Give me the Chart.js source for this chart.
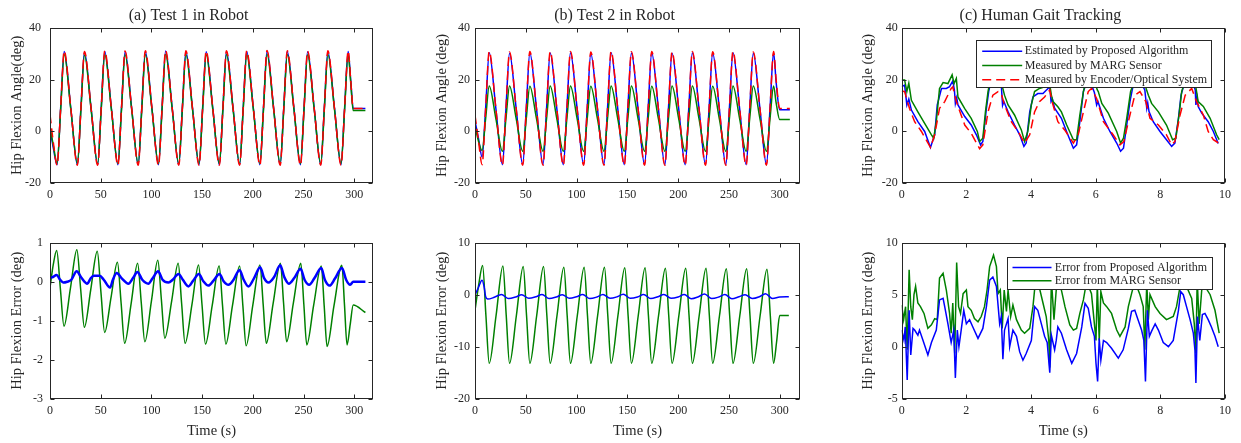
<!DOCTYPE html>
<html>
<head>
<meta charset="utf-8">
<script src="https://cdn.jsdelivr.net/npm/chart.js@4.4.0/dist/chart.umd.min.js"></script>
<style>
  body { margin: 0; background: #fff; width: 1241px; height: 443px; position: relative; overflow: hidden; }
  .cell { position: absolute; }
</style>
</head>
<body>
<div class="cell" style="left:0;top:0;width:395px;height:215px"><canvas id="angleA"></canvas></div>
<div class="cell" style="left:420px;top:0;width:395px;height:215px"><canvas id="angleB"></canvas></div>
<div class="cell" style="left:846px;top:0;width:395px;height:215px"><canvas id="angleC"></canvas></div>
<div class="cell" style="left:0;top:225px;width:395px;height:218px"><canvas id="errA"></canvas></div>
<div class="cell" style="left:420px;top:225px;width:395px;height:218px"><canvas id="errB"></canvas></div>
<div class="cell" style="left:846px;top:225px;width:395px;height:218px"><canvas id="errC"></canvas></div>
<script>
// ---- tick labels ----
const robotTimeTicks = [0, 50, 100, 150, 200, 250, 300];
const gaitTimeTicks = [0, 2, 4, 6, 8, 10];
const angleTicks = [-20, 0, 20, 40];
const errTicksA = [-3, -2, -1, 0, 1];
const errTicksB = [-20, -10, 0, 10];
const errTicksC = [-5, 0, 5, 10];

// ---- (a) Test 1 in Robot : angle ----
const tA = [0, 3.5,
  7, 10.5, 14, 20.5,
  27, 30.5, 34, 40.5,
  47, 50.5, 54, 60.5,
  67, 70.5, 74, 80.5,
  87, 90.5, 94, 100.5,
  107, 110.5, 114, 120.5,
  127, 130.5, 134, 140.5,
  147, 150.5, 154, 160.5,
  167, 170.5, 174, 180.5,
  187, 190.5, 194, 200.5,
  207, 210.5, 214, 220.5,
  227, 230.5, 234, 240.5,
  247, 250.5, 254, 260.5,
  267, 270.5, 274, 280.5,
  287, 290.5, 294, 296.5, 299, 311];
const aAngleEst = [1, -7,
  -13, 9, 31, 9,
  -13, 9, 30.8, 9,
  -13, 9, 31, 9,
  -13, 9, 30.9, 9,
  -13, 9, 31, 9,
  -13, 9, 31.1, 9,
  -13, 9, 31, 9,
  -13, 9, 30.9, 9,
  -13, 9, 31, 9,
  -13, 9, 31, 9,
  -13, 9, 31.1, 9,
  -13, 9, 31, 9,
  -13, 9, 30.9, 9,
  -13, 9, 31, 9,
  -13, 9, 31, 20, 8.8, 8.8];
const aAngleMarg = [2, -6,
  -12.6, 8.3, 29.8, 8.6,
  -12.6, 8.3, 29.6, 8.6,
  -12.6, 8.3, 29.8, 8.6,
  -12.6, 8.3, 29.7, 8.6,
  -12.6, 8.3, 29.8, 8.6,
  -12.6, 8.3, 29.9, 8.6,
  -12.6, 8.3, 29.8, 8.6,
  -12.6, 8.3, 29.7, 8.6,
  -12.6, 8.3, 29.8, 8.6,
  -12.6, 8.3, 29.8, 8.6,
  -12.6, 8.3, 29.9, 8.6,
  -12.6, 8.3, 29.8, 8.6,
  -12.6, 8.3, 29.7, 8.6,
  -12.6, 8.3, 29.8, 8.6,
  -12.6, 8.3, 29.8, 19, 8, 8];
const aAngleRef = [6.5, -5,
  -13.2, 9, 31.2, 9,
  -13.2, 9, 31, 9,
  -13.2, 9, 31.2, 9,
  -13.2, 9, 31.1, 9,
  -13.2, 9, 31.2, 9,
  -13.2, 9, 31.3, 9,
  -13.2, 9, 31.2, 9,
  -13.2, 9, 31.1, 9,
  -13.2, 9, 31.2, 9,
  -13.2, 9, 31.2, 9,
  -13.2, 9, 31.3, 9,
  -13.2, 9, 31.2, 9,
  -13.2, 9, 31.1, 9,
  -13.2, 9, 31.2, 9,
  -13.2, 9, 31.2, 20, 8.8, 8.8];

// ---- (b) Test 2 in Robot : angle ----
const tB = [0, 3.5,
  7, 10.5, 14, 20.5,
  27, 30.5, 34, 40.5,
  47, 50.5, 54, 60.5,
  67, 70.5, 74, 80.5,
  87, 90.5, 94, 100.5,
  107, 110.5, 114, 120.5,
  127, 130.5, 134, 140.5,
  147, 150.5, 154, 160.5,
  167, 170.5, 174, 180.5,
  187, 190.5, 194, 200.5,
  207, 210.5, 214, 220.5,
  227, 230.5, 234, 240.5,
  247, 250.5, 254, 260.5,
  267, 270.5, 274, 280.5,
  287, 290.5, 294, 296.5, 300, 310];
const bAngleEst = [4, -3,
  -10, 9, 30.5, 9,
  -13, 9, 30.3, 9,
  -13, 9, 30.5, 9,
  -13, 9, 30.4, 9,
  -13, 9, 30.5, 9,
  -13, 9, 30.2, 9,
  -13, 9, 30.5, 9,
  -13, 9, 30.4, 9,
  -13, 9, 30.5, 9,
  -13, 9, 30.3, 9,
  -13, 9, 30.5, 9,
  -13, 9, 30.4, 9,
  -13, 9, 30.5, 9,
  -13, 9, 30.3, 9,
  -13, 9, 30.5, 19, 8.3, 8.3];
const bAngleMarg = [2, -4,
  -7.5, 5, 17.6, 5,
  -7.8, 5, 17.6, 5,
  -7.8, 5, 17.5, 5,
  -7.8, 5, 17.6, 5,
  -7.8, 5, 17.6, 5,
  -7.8, 5, 17.5, 5,
  -7.8, 5, 17.6, 5,
  -7.8, 5, 17.6, 5,
  -7.8, 5, 17.5, 5,
  -7.8, 5, 17.6, 5,
  -7.8, 5, 17.6, 5,
  -7.8, 5, 17.5, 5,
  -7.8, 5, 17.6, 5,
  -7.8, 5, 17.6, 5,
  -7.8, 5, 17.6, 11, 4.5, 4.5];
const bAngleRef = [6.3, -4,
  -13, 9, 31, 9,
  -13.2, 9, 30.8, 9,
  -13.2, 9, 31, 9,
  -13.2, 9, 30.9, 9,
  -13.2, 9, 31, 9,
  -13.2, 9, 30.8, 9,
  -13.2, 9, 31, 9,
  -13.2, 9, 30.9, 9,
  -13.2, 9, 31, 9,
  -13.2, 9, 30.8, 9,
  -13.2, 9, 31, 9,
  -13.2, 9, 30.9, 9,
  -13.2, 9, 31, 9,
  -13.2, 9, 30.8, 9,
  -13.2, 9, 31, 20, 8.8, 8.8];

// ---- (a) error ----
const tAErrEst = [0, 3, 6.5, 10, 13, 17, 21,
  26.3, 31, 36.8, 40, 43, 49, 53, 59.2, 62,
  65.8, 71, 77.3, 82,
  86.2, 91, 97, 101,
  106.6, 111, 116.8, 121,
  126.7, 131, 136.5, 141,
  146.8, 151, 156.2, 161,
  167.2, 171, 176, 181,
  186.9, 191, 195.7, 201,
  207.3, 211, 215.5, 221,
  227, 231, 235.5, 241,
  247.1, 251, 255.6, 261,
  267.5, 271, 275.7, 281,
  287.9, 292, 296, 299, 311];
const aErrEst = [0.1, 0.12, 0.17, 0.05, -0.02, 0.0, 0.05,
  0.27, 0.1, -0.05, 0.08, 0.15, 0.15, 0.05, -0.15, 0.05,
  0.22, 0.08, -0.05, 0.1,
  0.25, 0.05, -0.05, 0.08,
  0.27, 0.05, -0.02, 0.05,
  0.2, 0.05, -0.12, 0.02,
  0.2, 0.02, -0.1, 0.02,
  0.2, 0.02, -0.08, 0.05,
  0.3, 0.05, -0.12, 0.08,
  0.37, 0.1, -0.02, 0.12,
  0.42, 0.12, -0.05, 0.1,
  0.33, 0.05, -0.08, 0.1,
  0.35, 0.05, -0.1, 0.08,
  0.35, 0.05, -0.08, 0.0, 0.0];
const tAErrMarg = [0, 3.3,
  6.6, 10.2, 13.8, 20.2,
  26.5, 30.2, 33.9, 40.2,
  46.6, 50.2, 53.9, 60.2,
  66.5, 70.1, 73.6, 80,
  86.4, 90, 93.5, 100,
  106.3, 109.8, 113.2, 120,
  126.4, 129.8, 133.2, 140,
  146.5, 149.9, 153.3, 160,
  166.8, 170.1, 173.4, 180,
  187, 190.2, 193.4, 200,
  207, 210.2, 213.3, 220,
  227.2, 230.3, 233.3, 240,
  247.3, 250.3, 253.2, 260,
  267.5, 270.4, 273.2, 280,
  287.8, 290.4, 292.9, 296, 299, 311];
const aErrMarg = [-0.15, 0.45,
  0.8, -0.17, -1.14, -0.16,
  0.82, -0.18, -1.17, -0.2,
  0.78, -0.26, -1.3, -0.4,
  0.5, -0.54, -1.58, -0.56,
  0.47, -0.54, -1.54, -0.5,
  0.55, -0.45, -1.45, -0.49,
  0.47, -0.56, -1.58, -0.58,
  0.43, -0.59, -1.6, -0.6,
  0.4, -0.6, -1.6, -0.6,
  0.4, -0.62, -1.64, -0.6,
  0.43, -0.58, -1.58, -0.56,
  0.47, -0.54, -1.54, -0.54,
  0.47, -0.58, -1.62, -0.6,
  0.4, -0.63, -1.66, -0.62,
  0.42, -0.6, -1.62, -1.1, -0.6, -0.79];

// ---- (b) error ----
const tBErrEst = [0, 3, 7, 9, 10.5, 12.5, 19,
  26, 33, 40, 46, 53, 60, 66, 73, 80,
  86, 93, 100, 106, 113, 120, 126, 133, 140,
  146, 153, 160, 166, 173, 180, 186, 193, 200,
  206, 213, 220, 226, 233, 240, 246, 253, 260,
  266, 273, 280, 286, 293, 300, 309];
const bErrEst = [0, 1.2, 2.8, 1.5, -0.4, -0.85, -0.5,
  0.05, -0.75, -0.45, 0.0, -0.7, -0.4, 0.05, -0.75, -0.45,
  0.0, -0.7, -0.4, 0.05, -0.75, -0.45, 0.05, -0.7, -0.4,
  0.1, -0.7, -0.45, 0.05, -0.75, -0.4, 0.05, -0.7, -0.45,
  0.05, -0.8, -0.4, 0.15, -0.75, -0.45, 0.05, -0.8, -0.4,
  0.0, -0.75, -0.4, 0.2, -0.75, -0.45, -0.4];
const tBErrMarg = [0, 3.7,
  7.5, 10.75, 14, 20.75,
  27.5, 30.75, 34, 40.75,
  47.5, 50.75, 54, 60.75,
  67.5, 70.75, 74, 80.75,
  87.5, 90.75, 94, 100.75,
  107.5, 110.75, 114, 120.75,
  127.5, 130.75, 134, 140.75,
  147.5, 150.75, 154, 160.75,
  167.5, 170.75, 174, 180.75,
  187.5, 190.75, 194, 200.75,
  207.5, 210.75, 214, 220.75,
  227.5, 230.75, 234, 240.75,
  247.5, 250.75, 254, 260.75,
  267.5, 270.75, 274, 280.75,
  287.5, 290.75, 294, 297, 300, 309];
const bErrMarg = [-3, 2,
  5.6, -4, -13.2, -4,
  5.5, -4, -13.2, -4,
  5.4, -4, -13.2, -4,
  5.4, -4, -13.2, -4,
  5.3, -4, -13.2, -4,
  5.3, -4, -13.2, -4,
  5.3, -4, -13.2, -4,
  5.2, -4, -13.2, -4,
  5.2, -4, -13.2, -4,
  5.1, -4, -13.2, -4,
  5.1, -4, -13.2, -4,
  5.1, -4, -13.2, -4,
  5.0, -4, -13.2, -4,
  5.0, -4, -13.2, -4,
  4.9, -4, -13.2, -9, -4, -4];

// ---- (c) Human gait tracking : angle ----
const cTimeEst = [0, 0.09, 0.16, 0.22, 0.3, 0.5, 0.71, 0.89, 1.02, 1.1,
  1.23, 1.38, 1.48, 1.58, 1.63, 1.66, 1.7, 1.74, 1.95, 2.15,
  2.31, 2.44, 2.51, 2.62, 2.69, 2.8, 2.95, 3.08, 3.12, 3.16,
  3.29, 3.49, 3.65, 3.78, 3.85, 3.96, 4.06, 4.21, 4.37, 4.47,
  4.58, 4.62, 4.66, 4.73, 4.94, 5.12, 5.31, 5.41, 5.51, 5.62,
  5.75, 5.9, 5.96, 6.03, 6.07, 6.24, 6.44, 6.65, 6.77, 6.86,
  6.96, 7.06, 7.14, 7.3, 7.52, 7.58, 7.61, 7.65, 7.78, 7.99,
  8.19, 8.35, 8.45, 8.56, 8.64, 8.8, 9.0, 9.08, 9.1, 9.14,
  9.17, 9.28, 9.48, 9.64, 9.79];
const cEst = [17.3, 17.9, 10.2, 12.5, 8.2, 3.7, -0.1, -6.3, -1.4, 10.2,
  16.6, 16.6, 17.3, 19.5, 16, 10.8, 13, 10.2, 5.7, 2.4,
  -1.4, -5.3, -4, 8.9, 15.4, 22, 21, 18, 10, 11.5,
  7.5, 2.4, -1.4, -5.9, -4.6, 7.5, 13.3, 14.6, 14.6, 15.9,
  17.2, 11.5, 12.5, 8.9, 5.0, -0.8, -6.6, -5.3, 3.7, 15.4,
  20, 17, 15, 10.2, 11.5, 5.0, -0.1, -4.6, -7.8, -6.6,
  2.4, 11.5, 16.6, 21, 16, 8.9, 11, 7.6, 3.7, -0.1,
  -3.3, -5.9, -4.6, 5.0, 14.0, 21, 19, 16, 10.2, 13,
  9.6, 7.0, 3.7, -0.1, -4.8];
const cTimeMarg = [0, 0.09, 0.16, 0.22, 0.3, 0.5, 0.71, 0.92, 0.99, 1.07,
  1.17, 1.28, 1.43, 1.56, 1.62, 1.69, 1.74, 1.95, 2.15, 2.34,
  2.41, 2.51, 2.59, 2.67, 2.8, 3.0, 3.12, 3.18, 3.29, 3.49,
  3.7, 3.8, 3.9, 4.01, 4.11, 4.26, 4.42, 4.58, 4.63, 4.68,
  4.83, 4.94, 5.1, 5.31, 5.41, 5.51, 5.62, 5.75, 5.95, 6.05,
  6.08, 6.19, 6.39, 6.65, 6.77, 6.86, 6.96, 7.08, 7.3, 7.55,
  7.63, 7.73, 7.94, 8.19, 8.38, 8.48, 8.59, 8.66, 8.85, 9.1,
  9.17, 9.33, 9.54, 9.74, 9.82];
const cMarg = [19.9, 19.9, 15.4, 18.6, 12.0, 7.5, 3.0, -1.4, -2.7, 3.7,
  16.6, 18.9, 18.5, 21.9, 18.5, 20.5, 13.3, 8.8, 5.0, -0.1,
  -4, -2.7, 7.5, 15.4, 24, 22, 17, 14.0, 10.2, 6.3,
  0.5, -4.0, -0.1, 10.2, 15.4, 16.6, 17.2, 18, 14, 11.5,
  9.5, 7.5, 2.5, -3.3, -3.3, 6.3, 15.4, 22, 20, 16,
  15.4, 10.8, 7.0, -0.1, -4.6, -2.7, 5.0, 15.4, 23, 17,
  14.0, 10.8, 7.5, 2.4, -3.3, -2.7, 7.5, 15.4, 23, 17,
  11.5, 9.6, 5.0, -1.4, -3.3];
const cTimeRef = [0, 0.09, 0.24, 0.4, 0.61, 0.89, 1.02, 1.17, 1.33, 1.53,
  1.58, 1.69, 1.95, 2.15, 2.41, 2.51, 2.67, 2.82, 2.98, 3.08,
  3.18, 3.39, 3.6, 3.8, 3.96, 4.11, 4.26, 4.42, 4.58, 4.65,
  4.83, 5.04, 5.31, 5.46, 5.62, 5.77, 5.87, 6.03, 6.24, 6.54,
  6.75, 6.87, 7.06, 7.21, 7.37, 7.55, 7.68, 7.94, 8.19, 8.35,
  8.45, 8.61, 8.77, 8.97, 9.12, 9.33, 9.48, 9.64, 9.79];
const cRef = [15.5, 15.4, 8.9, 3.7, -0.1, -6.3, -1.4, 8.9, 11.5, 16.6,
  17.2, 11.5, 2.4, -0.8, -6.8, -5.3, 7.5, 14.0, 15.4, 14.6,
  10.2, 3.7, -0.1, -4.6, -1.4, 7.5, 11.5, 13.3, 16.0, 11.5,
  3.7, 0.5, -4.6, -1.4, 7.5, 15.4, 16.6, 12.7, 3.7, -1.4,
  -5.3, -4.0, 6.3, 14.0, 15.4, 11.5, 5.0, 2.4, -1.4, -5.3,
  -4.0, 6.3, 14.0, 16.6, 11.5, 6.3, -0.1, -3.3, -4.5];

// ---- (c) error ----
const cErrTimeEst = [0, 0.07, 0.11, 0.17, 0.23, 0.28, 0.35, 0.4, 0.5, 0.55,
  0.66, 0.81, 0.92, 1.07, 1.17, 1.28, 1.33, 1.43, 1.53, 1.61,
  1.66, 1.72, 1.77, 1.84, 1.92, 2.0, 2.1, 2.2, 2.36, 2.51,
  2.62, 2.72, 2.82, 2.93, 3.03, 3.08, 3.13, 3.18, 3.29, 3.34,
  3.44, 3.55, 3.65, 3.75, 3.85, 4.01, 4.11, 4.21, 4.32, 4.42,
  4.5, 4.58, 4.63, 4.73, 4.78, 4.83, 4.94, 5.1, 5.26, 5.41,
  5.57, 5.67, 5.77, 5.87, 5.96, 6.01, 6.06, 6.11, 6.16, 6.24,
  6.34, 6.49, 6.7, 6.85, 7.01, 7.11, 7.21, 7.31, 7.42, 7.49,
  7.54, 7.6, 7.66, 7.73, 7.84, 7.94, 8.09, 8.25, 8.4, 8.56,
  8.63, 8.71, 8.81, 8.92, 9.02, 9.07, 9.1, 9.15, 9.22, 9.3,
  9.38, 9.48, 9.58, 9.69, 9.79];
const cErrEst = [1.6, 0.64, 1.9, -3.2, 3.5, -0.8, 1.76, 1.6, 1.1, 1.6,
  0.6, -0.8, 0.4, 1.6, 4.5, 4.65, 3.85, 2.2, 0.4, 1.6,
  -3.0, 1.6, 0, 1.6, 3.5, 2.2, 2.6, 1.9, 0.8, 1.76,
  3.85, 6.4, 6.7, 5.8, 2.2, 2.9, -1.2, 1.6, 2.7, 0,
  1.6, 1.0, -0.5, -1.3, -0.65, 0.6, 3.85, 3.5, 2.2, 1.0,
  0.4, -2.5, 1.1, -0.3, 0.6, 1.9, 1.3, -0.3, -1.6, -0.65,
  1.9, 4.17, 3.7, 1.9, 1.0, -1.6, -3.35, 0.8, -1.3, 0.6,
  0.4, -0.15, -1.1, -0.3, 1.76, 3.4, 3.5, 2.6, 1.6, 0.6,
  -3.35, 3.5, 1.0, 1.5, 2.2, 1.6, 0.4, 0.0, 0.6, 3.5,
  5.3, 5.0, 3.85, 2.6, 1.3, -0.3, -3.5, 2.9, 0.6, 3.1,
  3.2, 2.6, 1.9, 1.0, 0.0];
const cErrTimeMarg = [0, 0.06, 0.12, 0.17, 0.23, 0.28, 0.33, 0.38, 0.43, 0.5,
  0.58, 0.69, 0.81, 0.92, 1.02, 1.1, 1.17, 1.28, 1.38, 1.48,
  1.53, 1.58, 1.64, 1.7, 1.76, 1.82, 1.9, 2.0, 2.05, 2.15,
  2.25, 2.36, 2.46, 2.56, 2.64, 2.72, 2.84, 2.93, 2.98, 3.05,
  3.11, 3.17, 3.24, 3.29, 3.37, 3.44, 3.55, 3.7, 3.8, 3.96,
  4.06, 4.11, 4.21, 4.37, 4.47, 4.55, 4.58, 4.63, 4.71, 4.78,
  4.88, 4.95, 5.05, 5.2, 5.31, 5.41, 5.51, 5.62, 5.72, 5.87,
  5.96, 6.01, 6.05, 6.11, 6.16, 6.24, 6.34, 6.49, 6.65, 6.75,
  6.91, 7.01, 7.11, 7.21, 7.37, 7.47, 7.52, 7.58, 7.63, 7.68,
  7.84, 7.99, 8.19, 8.4, 8.5, 8.59, 8.66, 8.81, 8.97, 9.05,
  9.1, 9.14, 9.2, 9.28, 9.38, 9.54, 9.69, 9.82];
const cErrMarg = [4.0, 2.6, 3.85, -0.3, 7.4, 3.85, 2.6, 5.0, 5.8, 4.2,
  3.85, 3.2, 1.76, 2.1, 2.7, 2.6, 6.6, 7.05, 5.45, 3.2,
  1.3, 4.2, -0.65, 8.1, 3.85, 3.2, 5.1, 5.45, 3.85, 3.5,
  2.7, 2.4, 2.9, 3.85, 5.45, 7.7, 8.8, 7.7, 5.1, 5.45,
  1.76, 5.45, 3.4, 5.45, 2.9, 4.0, 2.6, 1.6, 1.3, 1.76,
  3.85, 5.45, 6.3, 4.2, 2.9, 0.6, -2.0, 6.5, 2.6, 5.45,
  6.2, 5.3, 3.85, 2.1, 1.6, 1.76, 3.2, 4.5, 6.3, 5.1,
  2.2, 0.6, 6.0, 0.6, 5.3, 4.2, 3.85, 3.2, 1.6, 1.0,
  1.9, 3.85, 5.1, 6.3, 5.0, 3.85, -0.3, 6.2, 2.6, 5.0,
  3.85, 3.2, 2.6, 2.9, 3.85, 5.45, 6.5, 5.8, 4.65, 2.2,
  -0.65, 6.5, 2.2, 5.45, 5.8, 5.0, 3.5, 1.3];

// ---- styling ----
const SERIF = "'Liberation Serif', 'Times New Roman', Times, serif";
const INK = '#262626';
const BLUE = '#0000ff', GREEN = '#008000', RED = '#ff0000';

function pts(xs, ys) {
  const n = Math.min(xs.length, ys.length);
  const out = [];
  for (let i = 0; i < n; i++) out.push({ x: xs[i], y: ys[i] });
  return out;
}

function series(label, xs, ys, color, extra) {
  return Object.assign({
    label: label,
    data: pts(xs, ys),
    borderColor: color,
    backgroundColor: color,
    borderWidth: 1.5,
    pointRadius: 0,
    fill: false
  }, extra || {});
}

// matlab-like box with inward ticks on all four sides
const axesBox = {
  id: 'axesBox',
  afterDatasetsDraw(chart) {
    const { ctx, chartArea: a, scales } = chart;
    const L = Math.round(a.left) + 0.5, R = Math.round(a.right) - 0.5;
    const T = Math.round(a.top) + 0.5, B = Math.round(a.bottom) - 0.5;
    const len = 4;
    ctx.save();
    ctx.strokeStyle = INK;
    ctx.lineWidth = 1;
    ctx.strokeRect(L, T, R - L, B - T);
    ctx.beginPath();
    scales.x.ticks.forEach(t => {
      const p = Math.round(scales.x.getPixelForValue(t.value)) + 0.5;
      ctx.moveTo(p, B); ctx.lineTo(p, B - len);
      ctx.moveTo(p, T); ctx.lineTo(p, T + len);
    });
    scales.y.ticks.forEach(t => {
      const p = Math.round(scales.y.getPixelForValue(t.value)) + 0.5;
      ctx.moveTo(L, p); ctx.lineTo(L + len, p);
      ctx.moveTo(R, p); ctx.lineTo(R - len, p);
    });
    ctx.stroke();
    ctx.restore();
  }
};

// boxed legend inside the plot area
const boxLegend = {
  id: 'boxLegend',
  afterDraw(chart, args, o) {
    if (!o || !o.width) return;
    const a = chart.chartArea, ctx = chart.ctx;
    const x0 = Math.round(a.right - o.right - o.width) + 0.5;
    const y0 = Math.round(a.top + o.top) + 0.5;
    ctx.save();
    ctx.fillStyle = '#fff';
    ctx.fillRect(x0, y0, o.width, o.height);
    ctx.strokeStyle = INK;
    ctx.lineWidth = 1;
    ctx.strokeRect(x0, y0, o.width, o.height);
    ctx.font = '12px ' + SERIF;
    ctx.textBaseline = 'middle';
    chart.data.datasets.forEach((ds, i) => {
      const yy = y0 + o.first + i * o.gap;
      ctx.strokeStyle = ds.borderColor;
      ctx.lineWidth = 1.5;
      ctx.setLineDash(ds.borderDash || []);
      ctx.beginPath();
      ctx.moveTo(x0 + o.lineX, yy);
      ctx.lineTo(x0 + o.lineX + o.lineLen, yy);
      ctx.stroke();
      ctx.setLineDash([]);
      ctx.fillStyle = INK;
      ctx.fillText(ds.label, x0 + o.textX, yy);
    });
    ctx.restore();
  }
};

function panel(id, o) {
  return new Chart(document.getElementById(id), {
    type: 'line',
    data: { datasets: o.datasets },
    options: {
      animation: false,
      responsive: true,
      maintainAspectRatio: false,
      events: [],
      layout: { padding: o.pad },
      plugins: {
        legend: { display: false },
        tooltip: { enabled: false },
        title: o.title ? {
          display: true, text: o.title, color: INK,
          font: { family: SERIF, size: 16, weight: 'normal' },
          padding: { top: 6, bottom: 3 }
        } : { display: false },
        boxLegend: o.legend || {}
      },
      scales: {
        x: {
          type: 'linear', min: o.xMin, max: o.xMax,
          afterBuildTicks: s => { s.ticks = o.xTicks.map(v => ({ value: v })); },
          afterFit: s => { s.height = o.xHeight; },
          grid: { display: false, drawTicks: false },
          border: { display: false },
          ticks: { color: INK, font: { family: SERIF, size: 12 }, padding: 5, maxRotation: 0, autoSkip: false },
          title: o.xTitle ? {
            display: true, text: o.xTitle, color: INK,
            font: { family: SERIF, size: 14.5 }, padding: { top: 0, bottom: 2 }
          } : { display: false }
        },
        y: {
          type: 'linear', min: o.yMin, max: o.yMax,
          afterBuildTicks: s => { s.ticks = o.yTicks.map(v => ({ value: v })); },
          afterFit: s => { s.width = 46; },
          grid: { display: false, drawTicks: false },
          border: { display: false },
          ticks: { color: INK, font: { family: SERIF, size: 12 }, padding: o.yPad },
          title: {
            display: true, text: o.yTitle, color: INK,
            font: { family: SERIF, size: 14.5 }, padding: { top: 4, bottom: 0 }
          }
        }
      }
    },
    plugins: [axesBox, boxLegend]
  });
}

const smooth = { cubicInterpolationMode: 'monotone' };
const dashed = { borderDash: [9, 5] };

panel('angleA', {
  title: '(a) Test 1 in Robot',
  pad: { left: 4, right: 22, top: 0, bottom: 0 }, xHeight: 32.3,
  xMin: 0, xMax: 318.5, xTicks: robotTimeTicks,
  yMin: -20, yMax: 40, yTicks: angleTicks, yPad: 9,
  yTitle: 'Hip Flexion Angle(deg)',
  datasets: [
    series('Estimated by Proposed Algorithm', tA, aAngleEst, BLUE, Object.assign({ order: 2 }, smooth)),
    series('Measured by MARG Sensor', tA, aAngleMarg, GREEN, Object.assign({ order: 1 }, smooth)),
    series('Measured by Encoder/Optical System', tA, aAngleRef, RED, Object.assign({ order: 0 }, smooth, dashed))
  ]
});

panel('angleB', {
  title: '(b) Test 2 in Robot',
  pad: { left: 9, right: 15, top: 0, bottom: 0 }, xHeight: 32.3,
  xMin: 0, xMax: 320, xTicks: robotTimeTicks,
  yMin: -20, yMax: 40, yTicks: angleTicks, yPad: 5,
  yTitle: 'Hip Flexion Angle (deg)',
  datasets: [
    series('Estimated by Proposed Algorithm', tB, bAngleEst, BLUE, Object.assign({ order: 2 }, smooth)),
    series('Measured by MARG Sensor', tB, bAngleMarg, GREEN, Object.assign({ order: 1 }, smooth)),
    series('Measured by Encoder/Optical System', tB, bAngleRef, RED, Object.assign({ order: 0 }, smooth, dashed))
  ]
});

panel('angleC', {
  title: '(c) Human Gait Tracking',
  pad: { left: 9.7, right: 16, top: 0, bottom: 0 }, xHeight: 32.3,
  xMin: 0, xMax: 10, xTicks: gaitTimeTicks,
  yMin: -20, yMax: 40, yTicks: angleTicks, yPad: 4,
  yTitle: 'Hip Flexion Angle (deg)',
  legend: { right: 14, top: 12, width: 235, height: 47, first: 10.7, gap: 14.3, lineX: 5.7, lineLen: 40, textX: 48.3 },
  datasets: [
    series('Estimated by Proposed Algorithm', cTimeEst, cEst, BLUE, { order: 2 }),
    series('Measured by MARG Sensor', cTimeMarg, cMarg, GREEN, { order: 1 }),
    series('Measured by Encoder/Optical System', cTimeRef, cRef, RED, Object.assign({ order: 0 }, dashed))
  ]
});

panel('errA', {
  pad: { left: 4, right: 22, top: 17.7, bottom: 1 }, xHeight: 43.3,
  xMin: 0, xMax: 318.5, xTicks: robotTimeTicks, xTitle: 'Time (s)',
  yMin: -3, yMax: 1, yTicks: errTicksA, yPad: 7,
  yTitle: 'Hip Flexion Error (deg)',
  datasets: [
    series('Error from Proposed Algorithm', tAErrEst, aErrEst, BLUE, Object.assign({ order: 0, borderWidth: 2.5 }, smooth)),
    series('Error from MARG Sensor', tAErrMarg, aErrMarg, GREEN, Object.assign({ order: 1 }, smooth))
  ]
});

panel('errB', {
  pad: { left: 9, right: 15, top: 17.7, bottom: 1 }, xHeight: 43.3,
  xMin: 0, xMax: 320, xTicks: robotTimeTicks, xTitle: 'Time (s)',
  yMin: -20, yMax: 10, yTicks: errTicksB, yPad: 5,
  yTitle: 'Hip Flexion Error (deg)',
  datasets: [
    series('Error from Proposed Algorithm', tBErrEst, bErrEst, BLUE, Object.assign({ order: 0 }, smooth)),
    series('Error from MARG Sensor', tBErrMarg, bErrMarg, GREEN, Object.assign({ order: 1 }, smooth))
  ]
});

panel('errC', {
  pad: { left: 9.7, right: 16, top: 17.7, bottom: 1 }, xHeight: 43.3,
  xMin: 0, xMax: 10, xTicks: gaitTimeTicks, xTitle: 'Time (s)',
  yMin: -5, yMax: 10, yTicks: errTicksC, yPad: 4,
  yTitle: 'Hip Flexion Error (deg)',
  legend: { right: 13.3, top: 14, width: 205, height: 32, first: 10, gap: 13.3, lineX: 5, lineLen: 39, textX: 47.3 },
  datasets: [
    series('Error from Proposed Algorithm', cErrTimeEst, cErrEst, BLUE, { order: 0 }),
    series('Error from MARG Sensor', cErrTimeMarg, cErrMarg, GREEN, { order: 1 })
  ]
});
</script>
</body>
</html>
